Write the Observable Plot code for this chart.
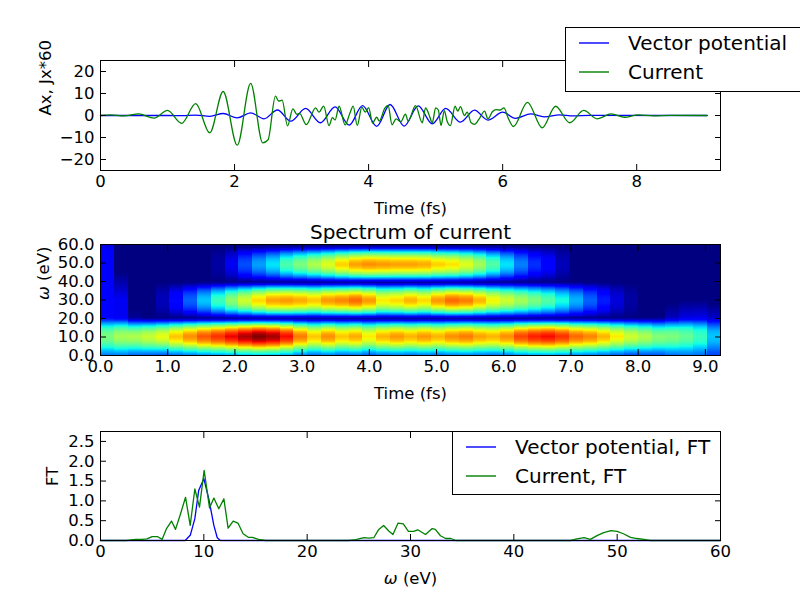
<!DOCTYPE html>
<html><head><meta charset="utf-8">
<script src="https://cdn.jsdelivr.net/npm/d3@7"></script>
<script src="https://cdn.jsdelivr.net/npm/@observablehq/plot@0.6"></script>
<style>
body{margin:0;background:#fff;}
#fig{position:relative;width:800px;height:600px;overflow:hidden;font-family:"DejaVu Sans",sans-serif;background:#fff;}
#fig > svg{position:absolute;left:0;top:0;background:transparent !important;}
.legend{position:absolute;border:1px solid #000;background:#fff;box-sizing:border-box;}
.legend svg.lsw{position:absolute;left:13px;width:32px;height:6px;overflow:visible;}
.ltext{position:absolute;font-size:20px;line-height:24px;color:#000;white-space:nowrap;font-family:"DejaVu Sans",sans-serif;}
</style></head><body><div id="fig"></div>
<script>
// ---------- Top panel: time series (fs, value) ----------
const vpT = [0, 1.0, 1.22, 1.42, 1.63, 1.83, 2.04, 2.24, 2.44, 2.64, 2.84, 3.06, 3.28, 3.50, 3.71, 3.91, 4.12, 4.32, 4.53, 4.74, 4.95, 5.15, 5.37, 5.58, 5.78, 6.00, 6.19, 6.42, 6.62, 6.85, 7.05, 7.3, 9.05];
const vpV = [0, 0, -0.1, 0.2, -0.4, 0.9, -1.1, 1.2, -1.5, 2.5, -2.6, 3.2, -3.3, 3.9, -4.4, 4.5, -4.9, 5.0, -4.8, 4.4, -3.8, 3.2, -3.0, 2.4, -2.1, 1.5, -1.3, 0.7, -0.6, 0.3, -0.2, 0.05, 0];
const curT = [0, 0.15, 0.35, 0.57, 0.80, 1.00, 1.21, 1.42, 1.63, 1.83,
  2.04, 2.24, 2.42, 2.50, 2.61, 2.66, 2.71, 2.79, 2.87, 2.93,
  2.97, 3.07, 3.21, 3.26, 3.33, 3.41, 3.46, 3.50, 3.56, 3.65,
  3.72, 3.77, 3.83, 3.90, 3.95, 4.00, 4.06, 4.12, 4.16, 4.24,
  4.29, 4.35, 4.41, 4.48, 4.55, 4.59, 4.70, 4.80, 4.85, 4.90,
  4.95, 5.00, 5.04, 5.08, 5.13, 5.17, 5.22, 5.29, 5.33, 5.37,
  5.43, 5.47, 5.53, 5.58, 5.65, 5.73, 5.78, 5.85, 5.90, 5.96,
  6.02, 6.08, 6.16, 6.37, 6.59, 6.79, 7.00, 7.21, 7.41, 7.62,
  7.82, 8.02, 8.25, 8.5, 9.05];
const curV = [0, 0.3, -0.2, 0.7, -1.2, 2.3, -3.6, 5.4, -7.9, 10.9,
  -13.5, 14.6, -12.4, -11.0, 8.8, 6.5, 7.0, -4.7, 3.0, 0.5,
  1.0, -4.1, 3.5, 1.5, 4.3, -4.6, -1.0, -2.0, 4.2, -4.3,
  1.0, 4.3, -4.5, 3.8, 1.5, 3.6, -3.4, -0.8, -2.5, 3.2,
  4.6, -4.2, -1.5, -2.8, 0.6, -2.6, 4.5, -3.3, 3.5, 0.5,
  -3.3, 3.5, 2.5, -4.5, 2.2, -2.5, -4.6, 4.2, 2.0, 4.0,
  0.0, 1.5, -3.3, -4.0, -1.5, 2.0, -1.5, 1.8, 2.7, 2.5,
  3.5, -1.0, -5.0, 6.0, -5.6, 4.2, -3.3, 2.3, -1.5, 0.7,
  -0.8, 0.3, -0.15, 0.05, 0];
const topXTicks = [0, 2, 4, 6, 8];
const topYTicks = [-20, -10, 0, 10, 20];
const topLegend = ["Vector potential", "Current"];

// ---------- Middle panel: spectrogram, 45 time columns, band strengths (0..1) ----------
const specTmax = 9.225;
const specCenters = [10, 29.5, 49];      // eV
const band10 = [0.38, 0.45, 0.5, 0.57, 0.63, 0.7, 0.76, 0.82, 0.86, 0.91,
  0.96, 1.0, 0.97, 0.9, 0.78, 0.7, 0.76, 0.7, 0.73, 0.66,
  0.72, 0.75, 0.72, 0.75, 0.72, 0.76, 0.78, 0.74, 0.72, 0.76,
  0.84, 0.88, 0.9, 0.86, 0.8, 0.77, 0.72, 0.66, 0.6, 0.55,
  0.47, 0.4, 0.34, 0.28, 0.2];
const band30 = [0, 0, 0, 0, 0.05, 0.13, 0.22, 0.32, 0.42, 0.52,
  0.6, 0.68, 0.74, 0.75, 0.73, 0.7, 0.75, 0.77, 0.8, 0.75,
  0.66, 0.68, 0.72, 0.68, 0.75, 0.8, 0.78, 0.72, 0.65, 0.6,
  0.55, 0.5, 0.45, 0.38, 0.3, 0.22, 0.15, 0.08, 0.03, 0,
  0, 0, 0, 0, 0];
const band50 = [0, 0, 0, 0, 0, 0, 0, 0, 0.03, 0.1,
  0.2, 0.28, 0.35, 0.44, 0.5, 0.56, 0.62, 0.69, 0.74, 0.76,
  0.75, 0.74, 0.74, 0.73, 0.69, 0.67, 0.62, 0.55, 0.45, 0.35,
  0.25, 0.17, 0.12, 0.05, 0, 0, 0, 0, 0, 0,
  0, 0, 0, 0, 0];
const edgeLevel = [0.12, 0.1, 0.06, 0.03, 0, 0, 0, 0, 0, 0,
  0, 0, 0, 0, 0, 0, 0, 0, 0, 0,
  0, 0, 0, 0, 0, 0, 0, 0, 0, 0,
  0, 0, 0, 0, 0, 0, 0, 0, 0, 0.02,
  0.05, 0.1, 0.13, 0.14, 0.12];
const edgeTop = [70, 45, 25, 20, 0, 0, 0, 0, 0, 0,
  0, 0, 0, 0, 0, 0, 0, 0, 0, 0,
  0, 0, 0, 0, 0, 0, 0, 0, 0, 0,
  0, 0, 0, 0, 0, 0, 0, 0, 0, 18,
  22, 28, 30, 30, 28];
const bandProfile = [1, 0.98, 0.94, 0.88, 0.8, 0.7, 0.58, 0.44, 0.28, 0.12, 0.02, 0];
const bandProfileBelow10 = [1, 0.98, 0.95, 0.9, 0.83, 0.75, 0.66, 0.57, 0.48, 0.4, 0.33, 0.28];
const midXTicks = [0, 1, 2, 3, 4, 5, 6, 7, 8, 9];
const midYTicks = [0, 10, 20, 30, 40, 50, 60];

// ---------- Bottom panel: Fourier transforms ----------
const ftVpW = [0, 8.2, 8.7, 9.13, 9.5, 10.0, 10.48, 10.97, 11.3, 11.6, 60];
const ftVpV = [0, 0, 0.14, 0.55, 1.26, 1.56, 1.05, 0.38, 0.07, 0, 0];
const ftCurW = [0, 2.5, 3.4, 4.0, 4.5, 5.0, 5.5, 5.97, 6.39, 6.87,
  7.26, 7.74, 8.23, 8.68, 9.13, 9.58, 10.03, 10.55, 10.97, 11.45,
  11.94, 12.35, 12.84, 13.3, 13.8, 14.3, 14.7, 15.3, 16.0, 24.0,
  24.7, 25.5, 25.97, 26.45, 26.9, 27.4, 27.9, 28.3, 28.8, 29.3,
  29.8, 30.3, 30.7, 31.45, 32.1, 32.4, 32.9, 33.4, 33.9, 34.4,
  45.5, 46.1, 46.8, 47.4, 48.1, 48.7, 49.4, 50.0, 50.6, 51.3,
  51.9, 52.6, 53.2, 60];
const ftCurV = [0, 0, 0.03, 0.03, 0.04, 0.1, 0.1, 0.03, 0.3, 0.49,
  0.28, 0.67, 1.09, 0.38, 1.3, 0.84, 1.77, 0.82, 1.07, 0.8,
  1.05, 0.31, 0.49, 0.44, 0.17, 0.08, 0.08, 0.03, 0, 0,
  0.02, 0.07, 0.06, 0.07, 0.27, 0.38, 0.24, 0.15, 0.44, 0.42,
  0.23, 0.23, 0.27, 0.15, 0.3, 0.28, 0.12, 0.05, 0.05, 0,
  0, 0.04, 0.07, 0.03, 0.13, 0.2, 0.25, 0.23, 0.17, 0.08,
  0.05, 0.03, 0, 0];
const botXTicks = [0, 10, 20, 30, 40, 50, 60];
const botYTicks = [0, 0.5, 1.0, 1.5, 2.0, 2.5];
const botLegend = ["Vector potential, FT", "Current, FT"];

const seriesColors = ["#0000ff", "#008000"];

// ---------- helpers ----------
const FONT = "DejaVu Sans";
const FS = 16.5;
const fmt1 = d3.format(".1f");
const zip = (xs, ys) => xs.map((x, i) => ({x, y: ys[i]}));

function jet(t) {
  t = Math.max(0, Math.min(1, t));
  const seg = pts => {
    for (let i = 1; i < pts.length; i++) {
      if (t <= pts[i][0]) {
        const [x0, y0] = pts[i - 1], [x1, y1] = pts[i];
        return y0 + (y1 - y0) * (t - x0) / (x1 - x0);
      }
    }
    return pts[pts.length - 1][1];
  };
  const r = seg([[0, 0], [0.35, 0], [0.66, 1], [0.89, 1], [1, 0.5]]);
  const g = seg([[0, 0], [0.125, 0], [0.375, 1], [0.64, 1], [0.91, 0], [1, 0]]);
  const b = seg([[0, 0.5], [0.11, 1], [0.34, 1], [0.65, 0], [1, 0]]);
  return `rgb(${Math.round(r * 255)},${Math.round(g * 255)},${Math.round(b * 255)})`;
}
function prof(arr, d) {
  const i = Math.floor(d);
  if (i >= arr.length - 1) return 0;
  const f = d - i;
  return arr[i] * (1 - f) + arr[i + 1] * f;
}
const bands = [band10, band30, band50];
function specValue(t, w) {
  const n = band10.length;
  const j = Math.max(0, Math.min(n - 1, Math.floor(t / specTmax * n)));
  let v = 0;
  bands.forEach((b, k) => {
    const d = w - specCenters[k];
    const p = (k === 0 && d < 0) ? prof(bandProfileBelow10, -d) : prof(bandProfile, Math.abs(d));
    v = Math.max(v, b[j] * p);
  });
  v += edgeLevel[j] * Math.max(0, Math.min(1, (edgeTop[j] - w) / 15));
  return Math.min(1, v);
}

function panel({top, bottom, x, y, color, marks, xTicks, yTicks, xFmt, yFmt, xLabel, yLabel, yLabelDx, title}) {
  const blank = () => "";
  const extra = [];
  if (xLabel) extra.push(Plot.text([xLabel], {text: d => d, frameAnchor: "bottom", dy: 38, lineAnchor: "middle", fontSize: FS}));
  if (yLabel) extra.push(Plot.text([yLabel], {text: d => d, frameAnchor: "left", dx: yLabelDx, rotate: -90, lineAnchor: "middle", fontSize: FS}));
  if (title) extra.push(Plot.text([title], {text: d => d, frameAnchor: "top", dy: -12, lineAnchor: "middle", fontSize: 20}));
  return Plot.plot({
    width: 800, height: 600,
    marginLeft: 100, marginRight: 80, marginTop: top, marginBottom: 600 - bottom,
    x, y, color,
    style: {background: "transparent", fontFamily: FONT, fontSize: FS + "px", color: "#000", overflow: "visible"},
    marks: [
      ...marks,
      Plot.frame({stroke: "#000", strokeWidth: 1}),
      Plot.axisX({ticks: xTicks, anchor: "bottom", tickSize: 0, tickPadding: 5, tickFormat: xFmt, label: null, fontSize: FS}),
      Plot.axisX({ticks: xTicks, anchor: "bottom", tickSize: -6, tickFormat: blank, label: null}),
      Plot.axisX({ticks: xTicks, anchor: "top", tickSize: -6, tickFormat: blank, label: null}),
      Plot.axisY({ticks: yTicks, anchor: "left", tickSize: 0, tickPadding: 6, tickFormat: yFmt, label: null, fontSize: FS}),
      Plot.axisY({ticks: yTicks, anchor: "left", tickSize: -6, tickFormat: blank, label: null}),
      Plot.axisY({ticks: yTicks, anchor: "right", tickSize: -6, tickFormat: blank, label: null}),
      ...extra
    ]
  });
}

const fig = document.getElementById("fig");

const topPlot = panel({
  top: 60, bottom: 170,
  x: {domain: [0, 9.25]}, y: {domain: [-25, 25]},
  xTicks: topXTicks, yTicks: topYTicks, xFmt: d3.format("d"), yFmt: d3.format("d"),
  xLabel: "Time (fs)", yLabel: "Ax, Jx*60", yLabelDx: -55,
  marks: [
    Plot.line(zip(vpT, vpV), {x: "x", y: "y", stroke: seriesColors[0], strokeWidth: 1.3, curve: "monotone-x"}),
    Plot.line(zip(curT, curV), {x: "x", y: "y", stroke: seriesColors[1], strokeWidth: 1.3, curve: "monotone-x"})
  ]
});

const midPlot = panel({
  top: 244, bottom: 355,
  x: {domain: [0, specTmax]}, y: {domain: [0, 60]},
  color: {type: "linear", domain: [0, 1], interpolate: jet},
  xTicks: midXTicks, yTicks: midYTicks, xFmt: fmt1, yFmt: fmt1,
  xLabel: "Time (fs)", yLabel: "ω (eV)", yLabelDx: -57, title: "Spectrum of current",
  marks: [
    Plot.raster({x1: 0, x2: specTmax, y1: 0, y2: 60, width: band10.length, height: 111,
      fill: (t, w) => specValue(t, w), imageRendering: "pixelated"})
  ]
});

const botPlot = panel({
  top: 431, bottom: 540,
  x: {domain: [0, 60]}, y: {domain: [0, 2.75]},
  xTicks: botXTicks, yTicks: botYTicks, xFmt: d3.format("d"), yFmt: fmt1,
  xLabel: "ω (eV)", yLabel: "FT", yLabelDx: -48,
  marks: [
    Plot.line(zip(ftVpW, ftVpV), {x: "x", y: "y", stroke: seriesColors[0], strokeWidth: 1.3}),
    Plot.line(zip(ftCurW, ftCurV), {x: "x", y: "y", stroke: seriesColors[1], strokeWidth: 1.3})
  ]
});

[topPlot, midPlot, botPlot].forEach(svg => {
  fig.appendChild(svg);
  d3.select(svg).selectAll("text").each(function () {
    if (this.textContent === "ω (eV)") {
      const s = d3.select(this);
      s.text(null);
      s.append("tspan").attr("font-style", "italic").text("ω");
      s.append("tspan").text(" (eV)");
    }
  });
});

function legend(items, left, top, width, height) {
  const box = d3.select(fig).append("div").attr("class", "legend")
    .style("left", left + "px").style("top", top + "px")
    .style("width", width + "px").style("height", height + "px");
  items.forEach((label, i) => {
    const cy = 15 + i * 29;
    const sw = box.append("svg").attr("class", "lsw").style("top", (cy - 3) + "px");
    sw.append("line").attr("x1", 0).attr("x2", 30).attr("y1", 3).attr("y2", 3)
      .attr("stroke", seriesColors[i]).attr("stroke-width", 1.4);
    box.append("div").attr("class", "ltext")
      .style("left", "62px").style("top", (cy - 12) + "px").text(label);
  });
}
legend(topLegend, 565, 27, 260, 65);
legend(botLegend, 452, 431, 269, 64);
</script></body></html>
